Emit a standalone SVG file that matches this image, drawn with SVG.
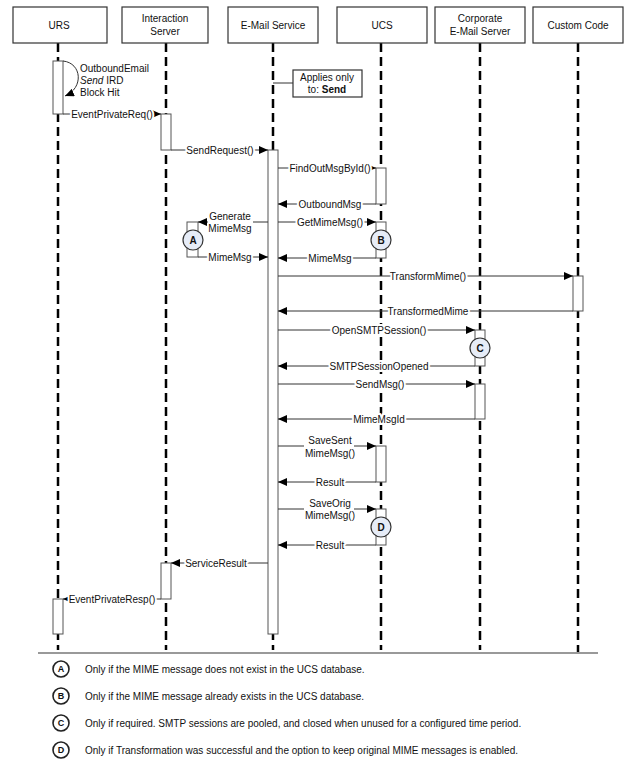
<svg xmlns="http://www.w3.org/2000/svg" width="635" height="767" viewBox="0 0 635 767">
<defs>
<marker id="arr" markerWidth="9" markerHeight="8" refX="9" refY="4" orient="auto" markerUnits="userSpaceOnUse">
<path d="M0,0 L9,4 L0,8 z" fill="#000"/>
</marker>
<style>
text{font-family:"Liberation Sans",Arial,sans-serif;fill:#111}
.hdr{font-size:10px;text-anchor:middle}
.box{fill:#fff;stroke:#333;stroke-width:1.2}
.life{stroke:#000;stroke-width:2.5;stroke-dasharray:9 5;fill:none}
.bar{fill:#fff;stroke:#555;stroke-width:1}
.msg{stroke:#333;stroke-width:1;fill:none}
.ar{marker-end:url(#arr)}
.lbl{font-size:10px;text-anchor:middle;stroke:#fff;stroke-width:4;paint-order:stroke;stroke-linejoin:round}
.lbl2{font-size:10px;text-anchor:middle}
.mark{fill:#e6ecf7;stroke:#333;stroke-width:1.2}
.markt{font-size:10px;font-weight:bold;text-anchor:middle}
.leg{fill:#fff;stroke:#222;stroke-width:1.6}
.legl{font-size:9px;font-weight:bold;text-anchor:middle}
.legt{font-size:10px}
</style>
</defs>

<g id="lifelines">
<line class="life" x1="58" y1="43" x2="58" y2="650"/>
<line class="life" x1="166" y1="43" x2="166" y2="650"/>
<line class="life" x1="273" y1="43" x2="273" y2="650"/>
<line class="life" x1="381" y1="43" x2="381" y2="650"/>
<line class="life" x1="480" y1="43" x2="480" y2="650"/>
<line class="life" x1="578" y1="43" x2="578" y2="652"/>
</g>

<g id="urs">
<rect class="box" x="13" y="7" width="94" height="36"/>
<text class="hdr" x="59" y="28.5">URS</text>
<rect class="bar" x="53" y="61" width="10" height="53"/>
<rect class="bar" x="53" y="599" width="10" height="35"/>
</g>
<g id="interaction-server">
<rect class="box" x="122" y="7" width="86" height="36"/>
<text class="hdr" x="165" y="21.5">Interaction</text>
<text class="hdr" x="165" y="34.5">Server</text>
<rect class="bar" x="161" y="114" width="10" height="36"/>
<rect class="bar" x="161" y="563" width="10" height="36"/>
</g>
<g id="email-service">
<rect class="box" x="228" y="7" width="90" height="36"/>
<text class="hdr" x="273" y="28.5">E-Mail Service</text>
<rect class="bar" x="268" y="150" width="10" height="484"/>
</g>
<g id="ucs">
<rect class="box" x="337" y="7" width="90" height="36"/>
<text class="hdr" x="382" y="28.5">UCS</text>
<rect class="bar" x="376" y="168" width="10" height="36"/>
<rect class="bar" x="376" y="222" width="10" height="36"/>
<rect class="bar" x="376" y="446" width="10" height="36"/>
<rect class="bar" x="376" y="509" width="10" height="36"/>
</g>
<g id="corporate-email-server">
<rect class="box" x="435" y="7" width="90" height="36"/>
<text class="hdr" x="480" y="21.5">Corporate</text>
<text class="hdr" x="480" y="34.5">E-Mail Server</text>
<rect class="bar" x="475" y="330" width="10" height="36"/>
<rect class="bar" x="475" y="384" width="10" height="35"/>
</g>
<g id="custom-code">
<rect class="box" x="533" y="7" width="90" height="36"/>
<text class="hdr" x="578" y="28.5">Custom Code</text>
<rect class="bar" x="573" y="276" width="10" height="35"/>
</g>

<g id="note">
<line class="msg" x1="273" y1="83" x2="293" y2="83"/>
<rect class="box" x="293" y="70" width="69" height="27"/>
<text class="hdr" x="327" y="81">Applies only</text>
<text class="hdr" x="327" y="93">to: <tspan font-weight="bold">Send</tspan></text>
</g>

<g id="connectors">
<path class="msg ar" d="M63,61 C82,63 84,88 65,96"/>
<line class="msg ar" x1="63" y1="114" x2="161" y2="114"/>
<line class="msg ar" x1="171" y1="150" x2="268" y2="150"/>
<line class="msg ar" x1="278" y1="168" x2="376" y2="168"/>
<line class="msg ar" x1="376" y1="204" x2="278" y2="204"/>
<line class="msg ar" x1="278" y1="222" x2="376" y2="222"/>
<line class="msg ar" x1="376" y1="258" x2="278" y2="258"/>
<rect class="bar" x="187" y="222" width="11" height="35" fill="none"/>
<line class="msg ar" x1="268" y1="222" x2="198" y2="222"/>
<line class="msg ar" x1="198" y1="257" x2="268" y2="257"/>
<line class="msg ar" x1="278" y1="276" x2="573" y2="276"/>
<line class="msg ar" x1="573" y1="311" x2="278" y2="311"/>
<line class="msg ar" x1="278" y1="330" x2="475" y2="330"/>
<line class="msg ar" x1="475" y1="366" x2="278" y2="366"/>
<line class="msg ar" x1="278" y1="384" x2="475" y2="384"/>
<line class="msg ar" x1="475" y1="419" x2="278" y2="419"/>
<line class="msg ar" x1="278" y1="446" x2="376" y2="446"/>
<line class="msg ar" x1="376" y1="482" x2="278" y2="482"/>
<line class="msg ar" x1="278" y1="509" x2="376" y2="509"/>
<line class="msg ar" x1="376" y1="545" x2="278" y2="545"/>
<line class="msg ar" x1="268" y1="563" x2="171" y2="563"/>
<line class="msg ar" x1="161" y1="599" x2="63" y2="599"/>
</g>

<g id="labels">
<text x="80" y="71.5" font-size="10">OutboundEmail</text>
<text x="80" y="83.5" font-size="10"><tspan font-style="italic">Send</tspan> IRD</text>
<text x="80" y="95.5" font-size="10">Block Hit</text>
<text class="lbl" x="112" y="117.5">EventPrivateReq()</text>
<text class="lbl" x="220" y="153.5">SendRequest()</text>
<text class="lbl" x="330" y="171.5">FindOutMsgById()</text>
<text class="lbl" x="330" y="207.5">OutboundMsg</text>
<text class="lbl" x="330" y="225.5">GetMimeMsg()</text>
<text class="lbl" x="330" y="261.5">MimeMsg</text>
<rect x="208" y="209" width="45" height="25" fill="#fff"/>
<text class="lbl2" x="230" y="219.5">Generate</text>
<text class="lbl2" x="230" y="232">MimeMsg</text>
<text class="lbl" x="230" y="260.5">MimeMsg</text>
<text class="lbl" x="428" y="279.5">TransformMime()</text>
<text class="lbl" x="428" y="314.5">TransformedMime</text>
<text class="lbl" x="379" y="333.5">OpenSMTPSession()</text>
<text class="lbl" x="379" y="369.5">SMTPSessionOpened</text>
<text class="lbl" x="380" y="387.5">SendMsg()</text>
<text class="lbl" x="379" y="422.5">MimeMsgId</text>
<rect x="304" y="434" width="50" height="25" fill="#fff"/>
<text class="lbl2" x="330" y="443.5">SaveSent</text>
<text class="lbl2" x="330" y="456.5">MimeMsg()</text>
<text class="lbl" x="330" y="485.5">Result</text>
<rect x="304" y="497" width="50" height="25" fill="#fff"/>
<text class="lbl2" x="330" y="506.5">SaveOrig</text>
<text class="lbl2" x="330" y="519">MimeMsg()</text>
<text class="lbl" x="330" y="548.5">Result</text>
<text class="lbl" x="216" y="566.5">ServiceResult</text>
<text class="lbl" x="112" y="602.5">EventPrivateResp()</text>
</g>

<g id="mark-a"><circle class="mark" cx="193" cy="240" r="10"/><text class="markt" x="193" y="243.5">A</text></g>
<g id="mark-b"><circle class="mark" cx="381" cy="240" r="10"/><text class="markt" x="381" y="243.5">B</text></g>
<g id="mark-c"><circle class="mark" cx="480" cy="348" r="10"/><text class="markt" x="480" y="351.5">C</text></g>
<g id="mark-d"><circle class="mark" cx="381" cy="527" r="10"/><text class="markt" x="381" y="530.5">D</text></g>

<g id="legend">
<line x1="38" y1="653" x2="598" y2="653" stroke="#777" stroke-width="1.5"/>
<circle class="leg" cx="61" cy="669" r="8"/><text class="legl" x="61" y="672.2">A</text>
<text class="legt" x="85" y="672.5">Only if the MIME message does not exist in the UCS database.</text>
<circle class="leg" cx="61" cy="696" r="8"/><text class="legl" x="61" y="699.2">B</text>
<text class="legt" x="85" y="699.5">Only if the MIME message already exists in the UCS database.</text>
<circle class="leg" cx="61" cy="723" r="8"/><text class="legl" x="61" y="726.2">C</text>
<text class="legt" x="85" y="726.5">Only if required. SMTP sessions are pooled, and closed when unused for a configured time period.</text>
<circle class="leg" cx="61" cy="750" r="8"/><text class="legl" x="61" y="753.2">D</text>
<text class="legt" x="85" y="753.5">Only if Transformation was successful and the option to keep original MIME messages is enabled.</text>
</g>
</svg>
